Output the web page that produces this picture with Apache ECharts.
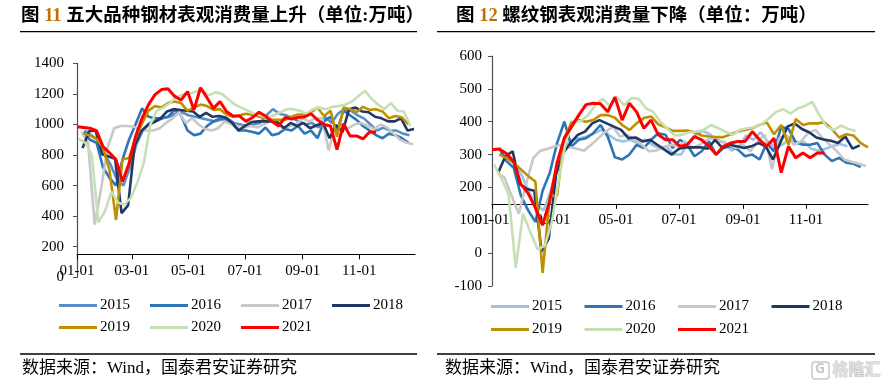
<!DOCTYPE html>
<html><head><meta charset="utf-8">
<script src="https://cdn.jsdelivr.net/npm/echarts@6/dist/echarts.min.js"></script>
<style>html,body{margin:0;padding:0;background:#fff}#c{width:886px;height:387px}</style>
</head><body><div id="c"></div>
<script>
// ---------- data ----------
const years = ['2015','2016','2017','2018','2019','2020','2021'];
const startDates = ['01-09','01-08','01-06','01-07','01-08','01-03','01-01']; // first weekly observation (MM-DD)
const tickLabels = ['01-01','03-01','05-01','07-01','09-01','11-01'];

// Fig 11: five major steel products apparent consumption (10k t), weekly
const steel2015 = [960,930,900,810,740,640,600,720,870,960,1010,1020,1040,1050,1070,1080,1060,1050,1040,1030,1020,1030,1040,1010,1000,990,1000,1010,1060,1100,1070,1060,1040,1020,1000,1010,980,1050,1010,1070,1100,1090,1060,1040,1000,960,980,960,960,940,930];
const steel2016 = [950,900,880,720,650,600,770,900,1000,1105,1050,1040,1040,1050,1095,1060,960,930,940,990,1020,1040,1030,1000,960,960,950,940,980,930,940,970,960,990,940,960,910,1020,1050,960,1090,1060,1030,990,960,930,910,940,930,910,880];
const steel2017 = [950,880,345,580,850,975,990,990,985,960,960,960,975,1010,1040,1080,1010,1040,1000,970,960,975,1020,1000,990,980,990,980,1000,1020,1000,975,990,1000,1040,1020,1040,1040,830,990,1000,975,1000,1010,990,970,1000,980,940,900,880,870];
const steel2018 = [845,955,960,805,790,775,420,470,860,955,995,1015,1040,1085,1100,1095,1090,1085,1050,1075,1050,1055,1045,1010,960,990,1015,1020,1020,1020,1015,975,1010,990,1010,975,995,1010,910,995,950,1100,1110,1085,1080,1050,1040,1020,1020,1040,960,970];
const steel2019 = [940,928,905,850,700,375,770,780,910,1005,1090,1120,1110,1140,1150,1140,1090,1110,1130,1120,1095,1100,1065,1050,1060,1070,1062,1052,1040,1030,1030,1030,1050,1065,1065,1080,1110,1055,1090,920,1110,1100,1080,1115,1095,1100,1085,1040,1055,1045,1000];
const steel2020 = [905,880,800,360,430,560,490,475,520,620,750,1000,1090,1110,1140,1180,1195,1200,1215,1225,1190,1210,1200,1165,1130,1110,1090,1070,1060,1045,1060,1080,1100,1100,1090,1070,1100,1110,1100,1115,1120,1130,1150,1185,1220,1170,1130,1100,1140,1090,1085,990];
const steel2021 = [985,980,975,960,855,815,770,627,745,920,1040,1130,1195,1228,1233,1185,1160,1215,1095,1240,1175,1105,1150,1085,1055,1055,1020,1045,1080,1055,1020,990,1045,1035,1045,1050,1070,1030,1000,990,835,1005,925,925,905,950,950];

// Fig 12: rebar apparent consumption (10k t), weekly
const rebar2015 = [305,290,275,235,185,145,130,190,270,330,345,350,355,365,375,360,345,340,345,335,345,330,320,325,300,300,335,360,372,362,340,338,312,325,358,345,368,340,322,330,348,332,338,318,312,318,326,332,325];
const rebar2016 = [320,280,260,175,130,95,190,245,335,400,325,345,350,365,390,355,292,285,300,330,320,345,365,360,320,345,330,295,310,340,300,320,325,315,295,300,285,335,310,385,378,338,330,330,335,300,280,290,275,272,262];
const rebar2017 = [245,230,175,120,210,290,312,318,325,330,322,318,312,330,350,370,385,355,360,345,330,310,312,322,330,325,340,320,330,345,350,340,330,320,330,310,340,360,255,350,360,330,340,365,375,350,330,310,285,278,272,265];
const rebar2018 = [245,295,310,210,195,190,5,45,240,305,335,360,370,395,405,395,385,375,350,352,340,345,330,315,300,318,322,322,322,318,345,320,330,325,320,325,335,325,285,335,385,395,378,368,352,346,342,335,355,318,328];
const rebar2019 = [300,290,275,255,235,218,-60,173,175,350,398,405,400,405,420,420,412,390,375,395,411,416,392,383,372,372,373,368,358,355,353,353,362,370,375,380,390,398,362,390,330,408,390,395,395,398,378,352,362,358,335,322];
const rebar2020 = [270,228,180,-45,120,65,12,22,95,230,345,398,402,420,450,470,448,475,450,472,470,441,430,400,378,358,360,368,370,375,390,380,370,360,375,380,383,392,410,430,438,425,440,448,460,420,385,375,388,378,372];
const rebar2021 = [315,317,303,278,210,182,138,85,160,275,350,385,420,452,456,455,430,475,405,456,430,380,405,360,345,345,325,330,355,345,325,300,325,335,340,340,370,345,325,350,245,325,290,305,290,305,305];

const leftAxis  = {min: 0,    max: 1400, interval: 200, cross: 150};
const rightAxis = {min: -100, max: 600,  interval: 100, cross: 150};

const titleL = ['图 ', '11', ' 五大品种钢材表观消费量上升（单位:万吨）'];
const titleR = ['图 ', '12', ' 螺纹钢表观消费量下降（单位：万吨）'];
const sourceText = '数据来源：Wind，国泰君安证券研究';

// ---------- styles ----------
const colorsL = ['#5B8DC8','#2E75B6','#C8C8C8','#1F3864','#BF9000','#C5E0B4','#FF0000'];
const colorsR = ['#9DC3E6','#2E75B6','#C8C8C8','#1F3864','#BF9000','#C5E0B4','#FF0000'];
const serif = "'Liberation Serif','Times New Roman','Noto Sans CJK SC',serif";
const cjk = "'Liberation Serif','Noto Sans CJK SC',serif";

function doy(md){const [m,d]=md.split('-').map(Number);return Math.round((Date.UTC(2021,m-1,d)-Date.UTC(2021,0,1))/86400000);}
const tickDays = tickLabels.map(doy);
const labelMap = {}; tickLabels.forEach((t,i)=>labelMap[tickDays[i]]=t);

const grids = [
  {left: 77, top: 63.3, width: 338, height: 214},
  {left: 492, top: 56, width: 376, height: 230}
];
const axesCfg = [leftAxis, rightAxis];

const xAxes = grids.map((g,k)=>{
  const a = axesCfg[k];
  return {
    type:'value', gridIndex:k, min:0, max:364, position:'bottom',
    offset: -(a.cross - a.min)/(a.max - a.min)*g.height,
    splitLine:{show:false},
    axisLine:{show:true, onZero:false, lineStyle:{color:'#000', width:1.2}},
    axisTick:{show:true, length:5, customValues: tickDays, lineStyle:{color:'#000'}},
    axisLabel:{customValues: tickDays, margin:9, formatter:v=>labelMap[v]||'', color:'#000', fontFamily:serif, fontSize:15}
  };
});
const yAxes = grids.map((g,k)=>{
  const a = axesCfg[k];
  return {
    type:'value', gridIndex:k, min:a.min, max:a.max, interval:a.interval,
    splitLine:{show:false},
    axisLine:{show:true, lineStyle:{color:'#505050', width:1.2}},
    axisTick:{show:true, length:4, lineStyle:{color:'#505050'}},
    axisLabel:{margin: k===0?13:10, color:'#000', fontFamily:serif, fontSize:15, formatter:v=>String(v)}
  };
});

const leftData = [steel2015,steel2016,steel2017,steel2018,steel2019,steel2020,steel2021];
const rightData = [rebar2015,rebar2016,rebar2017,rebar2018,rebar2019,rebar2020,rebar2021];
const series = [];
[leftData,rightData].forEach((set,k)=>{
  set.forEach((vals,i)=>{
    const s0 = doy(startDates[i]);
    series.push({
      type:'line', name:years[i], xAxisIndex:k, yAxisIndex:k,
      data: vals.map((v,j)=>[s0+7*j, v]),
      symbol:'none', smooth:false,
      lineStyle:{color:(k?colorsR:colorsL)[i], width: i===6?3:2.6},
      itemStyle:{color:(k?colorsR:colorsL)[i]},
      emphasis:{disabled:true}, animation:false, z: 2+i
    });
  });
});

function legendRow(left, top, gap, names, colors){
  return {
    left, top, padding:0, itemGap:gap, itemWidth:38, itemHeight:3, icon:'rect',
    selectedMode:false,
    textStyle:{fontFamily:serif, fontSize:15, color:'#000', padding:[0,0,0,-2]},
    data: names.map(n=>{const c=colors[years.indexOf(n)];return {name:n, itemStyle:{color:c}, lineStyle:{color:c}};})
  };
}

function richTitle(parts, left, top){
  return {
    left, top, padding:0,
    text: '{a|'+parts[0]+'}{b|'+parts[1]+'}{a|'+parts[2]+'}',
    textStyle:{rich:{
      a:{fontSize:18.5, fontWeight:'bold', fontFamily:cjk, color:'#000'},
      b:{fontSize:18.5, fontWeight:'bold', fontFamily:serif, color:'#C07000'}
    }}
  };
}

const lineSty = {stroke:'#000', lineWidth:1.3};
const option = {
  backgroundColor:'#fff',
  animation:false,
  title:[richTitle(titleL, 21, 7), richTitle(titleR, 456, 7)],
  grid: grids,
  xAxis: xAxes,
  yAxis: yAxes,
  legend:[
    legendRow(59, 298, 20, ['2015','2016','2017','2018'], colorsL),
    legendRow(59, 320, 20, ['2019','2020','2021'], colorsL),
    legendRow(491, 299, 22.5, ['2015','2016','2017','2018'], colorsR),
    legendRow(491, 322, 22.5, ['2019','2020','2021'], colorsR)
  ],
  series,
  graphic:[
    {type:'line', shape:{x1:20,y1:31.7,x2:417,y2:31.7}, style:lineSty},
    {type:'line', shape:{x1:437,y1:31.7,x2:875,y2:31.7}, style:lineSty},
    {type:'line', shape:{x1:20,y1:354,x2:417,y2:354}, style:lineSty},
    {type:'line', shape:{x1:437,y1:354,x2:875,y2:354}, style:lineSty},
    {type:'text', left:22, top:360, style:{text:sourceText, font:"17px "+cjk, fill:'#000'}},
    {type:'text', left:445, top:360, style:{text:sourceText, font:"17px "+cjk, fill:'#000'}},
    {type:'rect', shape:{x:812,y:362,width:17,height:17,r:3}, style:{fill:'none', stroke:'#c8c8c8', lineWidth:1.5}},
    {type:'text', left:815, top:362, style:{text:'G', font:"bold 14px 'Noto Sans'", fill:'#c8c8c8'}},
    {type:'text', left:832, top:361, style:{text:'格隆汇', font:"bold 16px 'Noto Sans CJK SC'", fill:'#e0e0e0', stroke:'#c0c0c0', lineWidth:0.8}}
  ]
};
const chart = echarts.init(document.getElementById('c'), null, {renderer:'canvas'});
chart.setOption(option);
</script>
</body></html>
